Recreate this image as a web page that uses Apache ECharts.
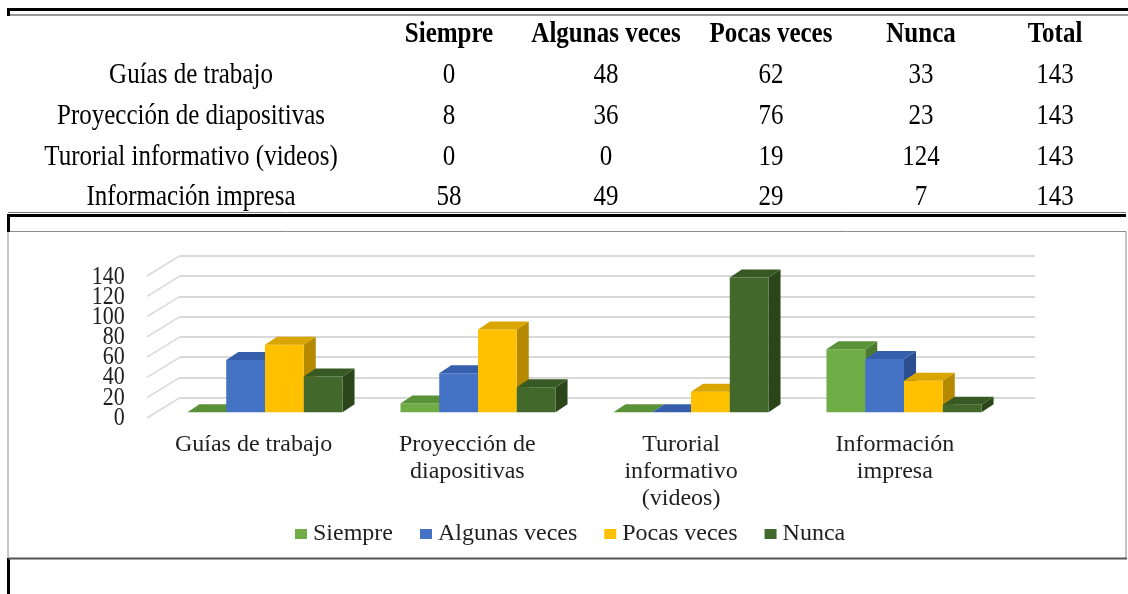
<!DOCTYPE html>
<html>
<head>
<meta charset="utf-8">
<script src="https://cdn.jsdelivr.net/npm/echarts@6/dist/echarts.min.js"></script>
<style>
  html, body { margin: 0; padding: 0; background: #ffffff; }
  #chart { width: 1128px; height: 594px; }
</style>
</head>
<body>
<div id="chart"></div>
<script>
(function () {
  // table / chart data
  var categories = ["Guías de trabajo", "Proyección de diapositivas", "Turorial informativo (videos)", "Información impresa"];
  var axisCategories = ["Guías de trabajo", "Proyección de\ndiapositivas", "Turorial\ninformativo\n(videos)", "Información\nimpresa"];
  var seriesNames = ["Siempre", "Algunas veces", "Pocas veces", "Nunca"];
  var siempre = [0, 8, 0, 58];
  var algunasVeces = [48, 36, 0, 49];
  var pocasVeces = [62, 76, 19, 29];
  var nunca = [33, 23, 124, 7];
  var totals = [143, 143, 143, 143];
  var tableHeader = ["", "Siempre", "Algunas veces", "Pocas veces", "Nunca", "Total"];
  var yTicks = [0, 20, 40, 60, 80, 100, 120, 140];
  var yMax = 140;
  var yStep = 20;

  var seriesValues = [siempre, algunasVeces, pocasVeces, nunca];
  var faceColors = [
    { front: "#70ad47", top: "#5a9238", side: "#4b7a2e" },
    { front: "#4472c4", top: "#365fab", side: "#2c4f8f" },
    { front: "#ffc000", top: "#dba500", side: "#b58900" },
    { front: "#43682b", top: "#375923", side: "#2a451a" }
  ];

  var serif = "'Liberation Serif', 'Times New Roman', serif";
  var textColor = "#1f1f1f";
  var depthX = 12;
  var depthY = -8;
  var groupRatio = 0.728;

  var colX = [191, 449, 606, 771, 921, 1055];
  var rowY = [34, 75, 116, 157, 197];

  function cellText(x, y, text, bold) {
    return {
      type: "text", x: x, y: y, scaleY: 1.18,
      style: { text: text, font: (bold ? "bold " : "") + "25px " + serif, fill: "#000", align: "center", verticalAlign: "middle" }
    };
  }

  function tableGraphics() {
    var items = [];
    tableHeader.forEach(function (label, c) {
      if (label) {
        items.push(cellText(colX[c], rowY[0], label, true));
      }
    });
    categories.forEach(function (name, r) {
      var cells = [name, siempre[r], algunasVeces[r], pocasVeces[r], nunca[r], totals[r]];
      cells.forEach(function (val, c) {
        items.push(cellText(colX[c], rowY[r + 1], String(val), false));
      });
    });
    // table rules and frame
    items.push({ type: "line", shape: { x1: 7, y1: 9.5, x2: 1128, y2: 9.5 }, style: { stroke: "#000", lineWidth: 3 } });
    items.push({ type: "line", shape: { x1: 8, y1: 15, x2: 1128, y2: 15 }, style: { stroke: "#777", lineWidth: 1.5 } });
    items.push({ type: "line", shape: { x1: 8.5, y1: 8, x2: 8.5, y2: 16 }, style: { stroke: "#000", lineWidth: 3 } });
    items.push({ type: "line", shape: { x1: 8, y1: 212.5, x2: 1126, y2: 212.5 }, style: { stroke: "#777", lineWidth: 1 } });
    items.push({ type: "line", shape: { x1: 7, y1: 215.5, x2: 1126, y2: 215.5 }, style: { stroke: "#000", lineWidth: 3 } });
    items.push({ type: "line", shape: { x1: 8.5, y1: 214, x2: 8.5, y2: 232 }, style: { stroke: "#000", lineWidth: 3 } });
    items.push({ type: "line", shape: { x1: 8.5, y1: 558, x2: 8.5, y2: 594 }, style: { stroke: "#000", lineWidth: 3 } });
    items.push({
      type: "rect", shape: { x: 8, y: 231.5, width: 1118, height: 327 },
      style: { fill: "none", stroke: "#8c8c8c", lineWidth: 1 }, z: -1
    });
    items.push({ type: "line", shape: { x1: 8, y1: 558.5, x2: 1127, y2: 558.5 }, style: { stroke: "#555", lineWidth: 2 } });
    return items;
  }

  function renderBar(seriesIndex) {
    return function (params, api) {
      var j = api.value(0);
      var v = api.value(1);
      var base = api.coord([j, 0]);
      var top = api.coord([j, v]);
      var band = api.size([1, 0])[0];
      var groupW = band * groupRatio;
      var barW = groupW / seriesValues.length;
      var x = base[0] - groupW / 2 + seriesIndex * barW;
      var yb = base[1];
      var yt = top[1];
      var col = faceColors[seriesIndex];
      var children = [];
      if (yb - yt > 0.5) {
        children.push({
          type: "polygon",
          shape: { points: [[x + barW, yt], [x + barW + depthX, yt + depthY], [x + barW + depthX, yb + depthY], [x + barW, yb]] },
          style: { fill: col.side }
        });
        children.push({
          type: "rect",
          shape: { x: x, y: yt, width: barW, height: yb - yt },
          style: { fill: col.front }
        });
      }
      children.push({
        type: "polygon",
        shape: { points: [[x, yt], [x + depthX, yt + depthY], [x + barW + depthX, yt + depthY], [x + barW, yt]] },
        style: { fill: col.top }
      });
      return { type: "group", children: children };
    };
  }

  var barSeries = seriesValues.map(function (values, i) {
    return {
      name: seriesNames[i],
      type: "custom",
      xAxisIndex: 2,
      yAxisIndex: 2,
      itemStyle: { color: faceColors[i].front },
      renderItem: renderBar(i),
      data: values.map(function (v, j) { return [j, v]; }),
      z: 3 + i
    };
  });

  // diagonal lines of the side wall, drawn on the back-wall grid
  var sideWall = {
    type: "custom",
    xAxisIndex: 1,
    yAxisIndex: 1,
    silent: true,
    z: 1,
    renderItem: function (params, api) {
      var p = api.coord([0, api.value(0)]);
      var left = params.coordSys.x;
      return {
        type: "line",
        shape: { x1: left - 33, y1: p[1] + 20.3, x2: left, y2: p[1] },
        style: { stroke: "#d9d9d9", lineWidth: 1.5 }
      };
    },
    data: yTicks.map(function (v) { return [v]; })
  };

  // value labels: the stacked labels overlap slightly, so the axis would drop some
  var yLabels = {
    type: "custom",
    xAxisIndex: 0,
    yAxisIndex: 0,
    silent: true,
    z: 2,
    renderItem: function (params, api) {
      var p = api.coord([0, api.value(0)]);
      return {
        type: "text",
        x: params.coordSys.x - 22,
        y: p[1],
        scaleY: 1.15,
        style: {
          text: String(api.value(0)),
          font: "22px " + serif,
          fill: textColor,
          align: "right",
          verticalAlign: "middle"
        }
      };
    },
    data: yTicks.map(function (v) { return [v]; })
  };

  var chart = echarts.init(document.getElementById("chart"), null, { renderer: "canvas" });
  chart.setOption({
    animation: false,
    backgroundColor: "#ffffff",
    textStyle: { fontFamily: serif },
    graphic: { elements: tableGraphics() },
    legend: {
      top: 517,
      left: 290,
      itemWidth: 12,
      itemHeight: 10,
      itemGap: 27,
      icon: "rect",
      data: seriesNames,
      textStyle: { fontFamily: serif, fontSize: 24, color: textColor, padding: [0, 0, 0, 1] }
    },
    grid: [
      { left: 146.7, right: 126.3, top: 277, bottom: 176 },
      { left: 180, right: 93, top: 255.7, bottom: 196.3 },
      { left: 158.5, right: 117.5, top: 260, bottom: 181.7 }
    ],
    xAxis: [
      {
        gridIndex: 0, type: "category", data: axisCategories,
        axisLine: { show: false }, axisTick: { show: false },
        axisLabel: { fontFamily: serif, fontSize: 24, color: textColor, margin: 13, lineHeight: 27, interval: 0 }
      },
      { gridIndex: 1, type: "category", data: axisCategories, show: false },
      { gridIndex: 2, type: "category", data: axisCategories, show: false }
    ],
    yAxis: [
      {
        gridIndex: 0, type: "value", min: 0, max: yMax, interval: yStep,
        axisLine: { show: false }, axisTick: { show: false }, splitLine: { show: false },
        axisLabel: { show: false }
      },
      {
        gridIndex: 1, type: "value", min: 0, max: yMax, interval: yStep,
        axisLine: { show: false }, axisTick: { show: false }, axisLabel: { show: false },
        splitLine: { show: true, lineStyle: { color: "#d9d9d9", width: 2 } }
      },
      { gridIndex: 2, type: "value", min: 0, max: yMax, show: false, splitLine: { show: false } }
    ],
    series: [sideWall, yLabels].concat(barSeries)
  });
})();
</script>
</body>
</html>
